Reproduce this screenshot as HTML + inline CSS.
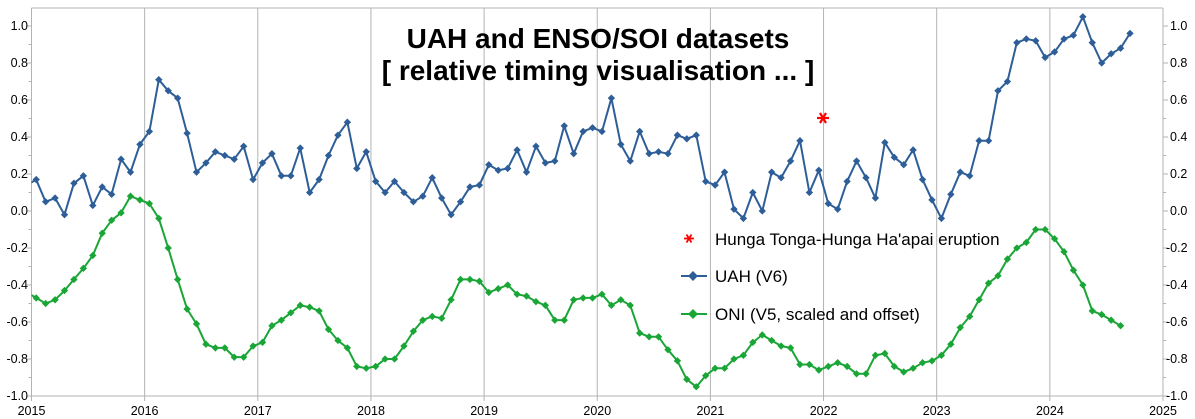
<!DOCTYPE html>
<html><head><meta charset="utf-8"><style>
html,body{margin:0;padding:0;background:#fff;}
svg{display:block;font-family:"Liberation Sans",sans-serif;}
</style></head><body>
<svg id="c" width="1195" height="419" viewBox="0 0 1195 419" xmlns="http://www.w3.org/2000/svg">
<defs><clipPath id="pa"><rect x="31.5" y="8" width="1131.5" height="388"/></clipPath></defs>
<g id="grid" stroke="#b3b3b3" stroke-width="1"></g>
<g id="ticks" stroke="#b3b3b3" stroke-width="1"></g>
<g font-size="12.5" fill="#000" text-anchor="end">
<text x="28" y="30">1.0</text><text x="28" y="67">0.8</text><text x="28" y="104">0.6</text><text x="28" y="141">0.4</text><text x="28" y="178">0.2</text><text x="28" y="215">0.0</text><text x="28" y="252">-0.2</text><text x="28" y="289">-0.4</text><text x="28" y="326">-0.6</text><text x="28" y="363">-0.8</text><text x="28" y="400">-1.0</text>
</g>
<g font-size="12.5" fill="#000" text-anchor="start">
<text x="1170" y="30">1.0</text><text x="1170" y="67">0.8</text><text x="1170" y="104">0.6</text><text x="1170" y="141">0.4</text><text x="1170" y="178">0.2</text><text x="1170" y="215">0.0</text><text x="1166" y="252">-0.2</text><text x="1166" y="289">-0.4</text><text x="1166" y="326">-0.6</text><text x="1166" y="363">-0.8</text><text x="1166" y="400">-1.0</text>
</g>
<g font-size="12.5" fill="#000" text-anchor="middle">
<text x="31.5" y="415">2015</text><text x="144.6" y="415">2016</text><text x="257.8" y="415">2017</text><text x="371" y="415">2018</text><text x="484.1" y="415">2019</text><text x="597.3" y="415">2020</text><text x="710.4" y="415">2021</text><text x="823.6" y="415">2022</text><text x="936.7" y="415">2023</text><text x="1049.9" y="415">2024</text><text x="1163" y="415">2025</text>
</g>
<g id="series" clip-path="url(#pa)"></g>
<text x="598" y="48" font-size="28" font-weight="bold" text-anchor="middle">UAH and ENSO/SOI datasets</text>
<text x="598" y="80" font-size="28" font-weight="bold" text-anchor="middle">[ relative timing visualisation ... ]</text>
<g stroke="#ff0000" stroke-width="2.2">
<line x1="829" y1="118" x2="817" y2="118"/><line x1="826" y1="113" x2="820" y2="123"/><line x1="820" y1="113" x2="826" y2="123"/>
</g>
<g stroke="#ff0000" stroke-width="1.8">
<line x1="694" y1="238.5" x2="684" y2="238.5"/><line x1="691.5" y1="234.5" x2="686.5" y2="242.5"/><line x1="686.5" y1="234.5" x2="691.5" y2="242.5"/>
</g>
<text x="715" y="245" font-size="17">Hunga Tonga-Hunga Ha'apai eruption</text>
<line x1="681" y1="276" x2="707" y2="276" stroke="#2e5e98" stroke-width="2"/>
<rect x="689.5" y="272.5" width="7" height="7" fill="#2e5e98" transform="rotate(45 693 276)"/>
<text x="715" y="282" font-size="17">UAH (V6)</text>
<line x1="681" y1="314" x2="707" y2="314" stroke="#1aa636" stroke-width="2"/>
<rect x="689.5" y="310.5" width="7" height="7" fill="#1aa636" transform="rotate(45 693 314)"/>
<text x="715" y="320" font-size="17">ONI (V5, scaled and offset)</text>
</svg>
<script>
var NS="http://www.w3.org/2000/svg";
function el(p,t,a){var e=document.createElementNS(NS,t);for(var k in a)e.setAttribute(k,a[k]);p.appendChild(e);return e;}
var g=document.getElementById("grid"),tk=document.getElementById("ticks"),s=document.getElementById("series");
var X0=31.5,YR=113.15;
for(var i=1;i<10;i++){var x=X0+i*YR;el(g,"line",{x1:x,y1:8,x2:x,y2:396});}
el(g,"line",{x1:X0,y1:8,x2:1163,y2:8});
el(g,"line",{x1:X0,y1:8,x2:X0,y2:396});
el(g,"line",{x1:1163,y1:8,x2:1163,y2:396});
el(g,"line",{x1:X0,y1:396,x2:1163,y2:396});
for(var v=-10;v<=10;v++){var y=211-18.5*v;var L=(v%2==0)?5:3;el(tk,"line",{x1:X0-L,y1:y,x2:X0,y2:y});el(tk,"line",{x1:1163,y1:y,x2:1163+L,y2:y});}
for(var i=0;i<=10;i++){var x=X0+i*YR;el(tk,"line",{x1:x,y1:396,x2:x,y2:401});}
var uah=[0.14,.17,.05,.07,-.02,.15,.19,.03,.13,.09,.28,.21,.36,
.43,.71,.65,.61,.42,.21,.26,.32,.30,.28,.35,.17,
.26,.31,.19,.19,.34,.10,.17,.30,.41,.48,.23,.32,
.16,.10,.16,.10,.05,.08,.18,.07,-.02,.05,.13,.14,
.25,.22,.23,.33,.21,.35,.26,.27,.46,.31,.43,.45,
.43,.61,.36,.27,.43,.31,.32,.31,.41,.39,.41,.16,
.14,.21,.01,-.04,.10,.00,.21,.18,.27,.38,.10,.22,
.04,.01,.16,.27,.18,.07,.37,.29,.25,.33,.17,.06,
-.04,.09,.21,.19,.38,.38,.65,.70,.91,.93,.92,.83,
.86,.93,.95,1.05,.91,.80,.85,.88,.96];
var oni=[-0.44,-.47,-.50,-.48,-.43,-.37,-.31,-.24,-.12,-.05,-.01,.08,.06,
.04,-.04,-.20,-.37,-.53,-.61,-.72,-.74,-.74,-.79,-.79,-.73,
-.71,-.62,-.59,-.55,-.51,-.52,-.54,-.64,-.70,-.74,-.84,-.85,
-.84,-.80,-.80,-.73,-.65,-.59,-.57,-.58,-.48,-.37,-.37,-.38,
-.44,-.42,-.40,-.45,-.46,-.49,-.51,-.59,-.59,-.48,-.47,-.47,
-.45,-.51,-.48,-.51,-.66,-.68,-.68,-.75,-.81,-.91,-.95,-.89,
-.85,-.85,-.80,-.78,-.71,-.67,-.70,-.73,-.74,-.83,-.83,-.86,
-.84,-.82,-.84,-.88,-.88,-.78,-.77,-.84,-.87,-.85,-.82,-.81,
-.78,-.72,-.63,-.57,-.48,-.39,-.35,-.26,-.20,-.17,-.10,-.10,
-.15,-.22,-.32,-.40,-.54,-.56,-.59,-.62];
function draw(d,c){var pts=[];for(var i=0;i<d.length;i++){var x=X0+(i-0.5)*YR/12,y=211-185*d[i];pts.push(x.toFixed(1)+","+y.toFixed(1));}
el(s,"polyline",{points:pts.join(" "),fill:"none",stroke:c,"stroke-width":2,"stroke-linejoin":"round"});
for(var i=1;i<d.length;i++){var x=X0+(i-0.5)*YR/12,y=211-185*d[i];el(s,"rect",{x:x-2.6,y:y-2.6,width:5.2,height:5.2,fill:c,transform:"rotate(45 "+x+" "+y+")"});}}
draw(uah,"#2e5e98");draw(oni,"#1aa636");
</script>
</body></html>
